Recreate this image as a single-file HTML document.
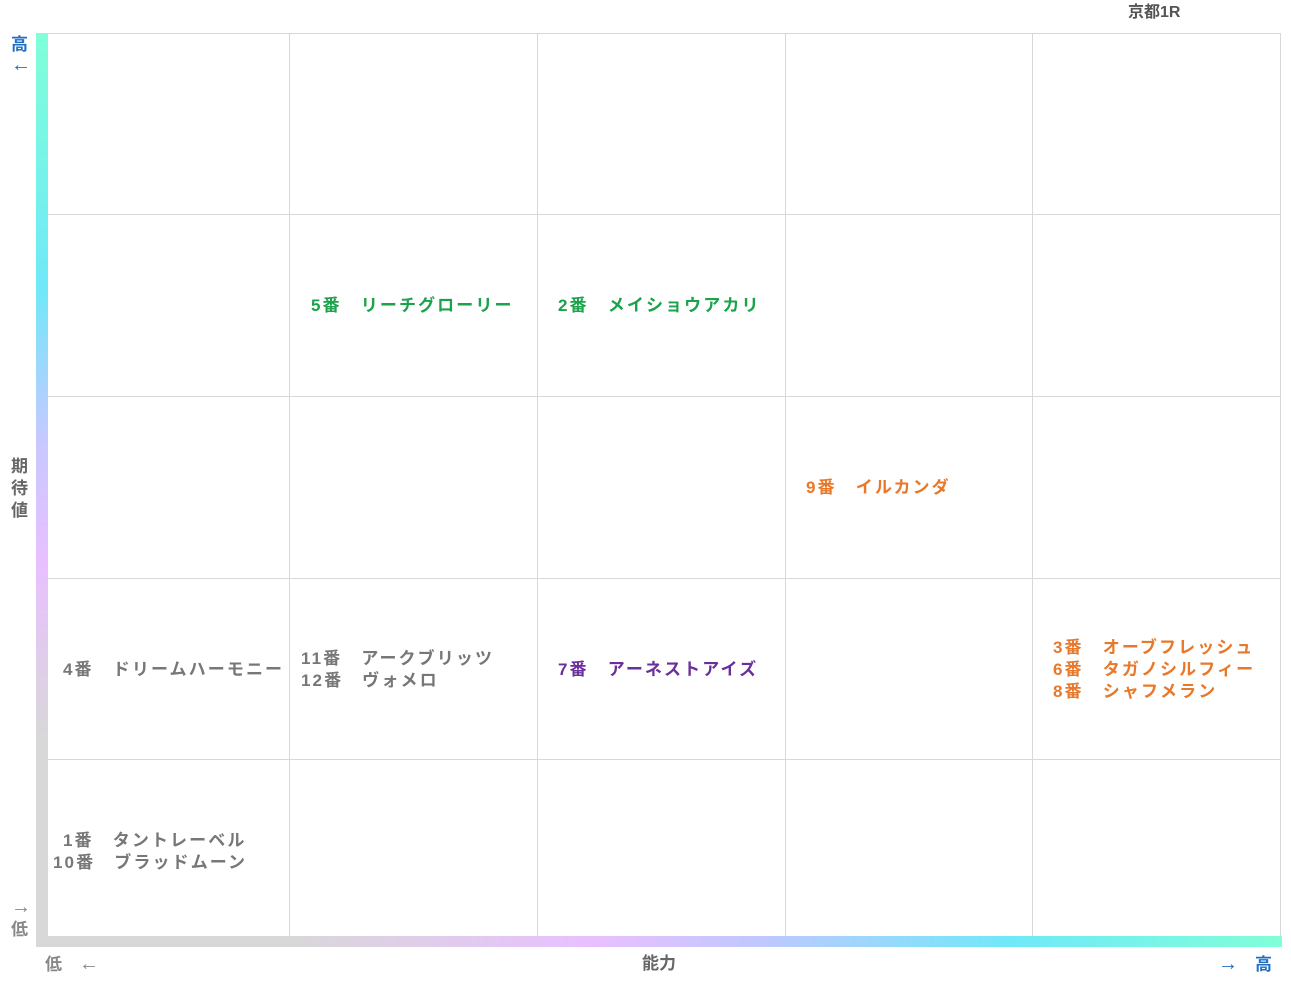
<!DOCTYPE html>
<html><head><meta charset="utf-8"><style>
body{margin:0;width:1291px;height:983px;background:#fff;position:relative;overflow:hidden;font-family:"Liberation Sans","Noto Sans CJK JP",sans-serif;font-weight:bold}
.t{position:absolute;font-size:17px;letter-spacing:2.1px;white-space:pre;line-height:22px}
.g{color:#1aa34a}.o{color:#e8782a}.p{color:#6b2f9b}.k{color:#777}
.v{position:absolute;width:1px;background:#d8d8d8;top:33px;height:905px}
.h{position:absolute;height:1px;background:#d8d8d8;left:48px;width:1233px}
.a{font-size:20px;font-weight:bold}
</style></head><body>
<div class="h" style="top:33px"></div><div class="h" style="top:214px"></div><div class="h" style="top:396px"></div><div class="h" style="top:578px"></div><div class="h" style="top:759px"></div>
<div class="v" style="left:289px"></div><div class="v" style="left:537px"></div><div class="v" style="left:785px"></div><div class="v" style="left:1032px"></div><div class="v" style="left:1280px"></div>
<div style="position:absolute;left:36px;top:33px;width:12px;height:910px;background:linear-gradient(#80ffd8,#70e8f8 28%,#c8c8ff 45%,#e8c0ff 58%,#d8d8d8 78%,#d8d8d8)"></div>
<div style="position:absolute;left:36px;top:936px;width:1246px;height:11px;background:linear-gradient(90deg,#d8d8d8,#d8d8d8 20%,#e8c0ff 45%,#c0c8ff 58%,#70e8f8 78%,#80ffd8)"></div>
<div class="t" style="left:1128px;top:2px;color:#555;font-size:16px;letter-spacing:0">京都1R</div>
<div class="t" style="left:11px;top:35px;color:#1f6fc0;font-size:17px;line-height:20px;letter-spacing:0">高<br><span class="a">←</span></div>
<div class="t" style="left:11px;top:456px;color:#666;line-height:22px;letter-spacing:0">期<br>待<br>値</div>
<div class="t" style="left:11px;top:896px;color:#888;line-height:22px;letter-spacing:0"><span class="a">→</span><br>低</div>
<div class="t" style="left:45px;top:953px;color:#888;letter-spacing:0">低　<span class="a">←</span></div>
<div class="t" style="left:642px;top:953px;color:#666;letter-spacing:0">能力</div>
<div class="t" style="left:1218px;top:953px;color:#1f6fc0;letter-spacing:0"><span class="a">→</span>　高</div>
<div class="t g" style="left:311px;top:295px">5番　リーチグローリー</div>
<div class="t g" style="left:558px;top:295px">2番　メイショウアカリ</div>
<div class="t o" style="left:806px;top:477px">9番　イルカンダ</div>
<div class="t k" style="left:63px;top:659px">4番　ドリームハーモニー</div>
<div class="t k" style="left:301px;top:648px">11番　アークブリッツ<br>12番　ヴォメロ</div>
<div class="t p" style="left:558px;top:659px">7番　アーネストアイズ</div>
<div class="t o" style="left:1053px;top:637px">3番　オーブフレッシュ<br>6番　タガノシルフィー<br>8番　シャフメラン</div>
<div class="t k" style="left:63px;top:830px">1番　タントレーベル</div>
<div class="t k" style="left:53px;top:852px">10番　ブラッドムーン</div>
</body></html>
